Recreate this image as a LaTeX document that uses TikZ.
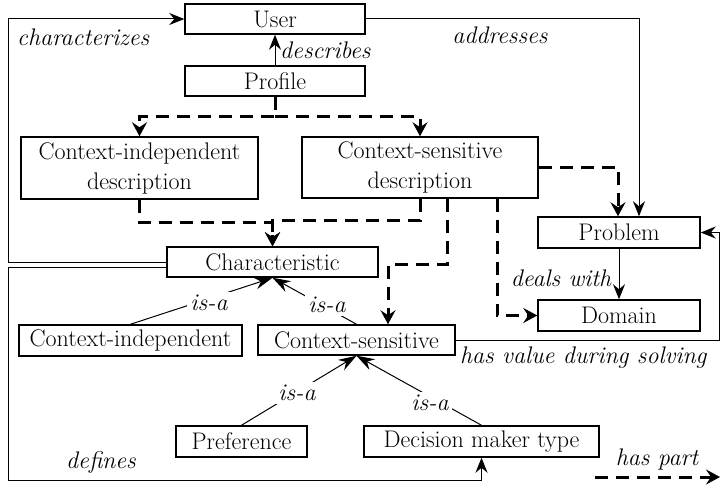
\documentclass[tikz,border=0pt]{standalone}
\usetikzlibrary{arrows.meta,calc}
\begin{document}
\begin{tikzpicture}[x=1pt,y=-1pt,
  box/.style={draw,line width=1.5pt,inner sep=0pt,align=center,font=\fontsize{24}{30}\selectfont},
  lbl/.style={font=\fontsize{24}{30}\selectfont\itshape,inner sep=1pt},
  rel/.style={line width=1pt,-{Stealth[length=15pt,width=12pt,inset=5pt]}},
  part/.style={line width=3pt,dash pattern=on 13pt off 8pt,-{Stealth[length=14pt,width=15pt,inset=5pt]}},
  isa/.style={line width=1pt,-{Stealth[length=18pt,width=12pt,inset=6pt]}},
  isalbl/.style={lbl,fill=white,inner sep=3pt}]
\useasboundingbox (0,0) rectangle (720,487);

% boxes
\node[box,minimum width=180pt,minimum height=30pt] (user) at (275,19) {User};
\node[box,minimum width=180pt,minimum height=30pt] (profile) at (275,81) {Profile};
\node[box,minimum width=237pt,minimum height=62pt] (cid) at (139.5,168) {Context-independent\\description};
\node[box,minimum width=236pt,minimum height=61pt] (csd) at (420,167.5) {Context-sensitive\\description};
\node[box,minimum width=211pt,minimum height=30pt] (char) at (272.5,262) {Characteristic};
\node[box,minimum width=162pt,minimum height=31pt] (problem) at (619,232.5) {Problem};
\node[box,minimum width=162pt,minimum height=31pt] (domain) at (619,315.5) {Domain};
\node[box,minimum width=223pt,minimum height=31pt] (ci) at (130.5,340.5) {Context-independent};
\node[box,minimum width=197pt,minimum height=30pt] (cs) at (356.5,340) {Context-sensitive};
\node[box,minimum width=131pt,minimum height=31pt] (pref) at (241.5,441.5) {Preference};
\node[box,minimum width=235pt,minimum height=31pt] (dmt) at (481.5,441.5) {Decision maker type};

% has-part (dashed) connectors
\coordinate (pj) at ($(profile.south)+(0,20)$);
\draw[part] (profile.south) -- (pj) -| (cid.north);
\draw[part] (pj) -| (csd.north);
\draw[part] (cid.south) -- ++(0,23) -| (char.north);
\draw[part] (csd.south) -- ++(0,22) -| (char.north);
\draw[part] ([xshift=27pt]csd.south) -- ++(0,66) -| ([xshift=31.5pt]cs.north);
\draw[part] ([xshift=77pt]csd.south) |- (domain.west);
\draw[part] (csd.east) -| ([xshift=-1pt]problem.north);

% solid relations
\draw[rel] (profile.north) -- (user.south);
\draw[rel] (char.west) -- ++(-158,0) |- (user.west);
\draw[rel] (user.east) -| ([xshift=20pt]problem.north);
\draw[rel] (problem.south) -- (domain.north);
\draw[rel] ([yshift=-5pt]char.west) -- ++(-158,0) -- ++(0,213) -| (dmt.south);
\draw[rel] (cs.east) -- ++(263.5,0) |- (problem.east);

% is-a
\draw[isa] (ci.north) -- (char.south);
\draw[isa] (cs.north) -- (char.south);
\draw[isa] (pref.north) -- (cs.south);
\draw[isa] (dmt.north) -- (cs.south);
\node[isalbl] (isa1) at (209,303) {is-a};
\node[isalbl] (isa2) at (327,305) {is-a};
\node[isalbl] (isa3) at (297,393) {is-a};
\node[isalbl] (isa4) at (430,403) {is-a};

% labels
\node[lbl,anchor=west] (ldesc) at (279,50) {describes};
\node[lbl,anchor=west] (lchar) at (16,37) {characterizes};
\node[lbl] (laddr) at (500,35) {addresses};
\node[lbl] (ldeal) at (561,278) {deals with};
\node[lbl,anchor=west] (lval) at (459,358) {has value during solving};
\node[lbl] (ldef) at (101,462) {defines};
\node[lbl] (lpart) at (657,459) {has part};

% legend
\coordinate (lg1) at (595,477);
\coordinate (lg2) at (720,477);
\draw[part] (lg1) -- (lg2);
\end{tikzpicture}
\end{document}
